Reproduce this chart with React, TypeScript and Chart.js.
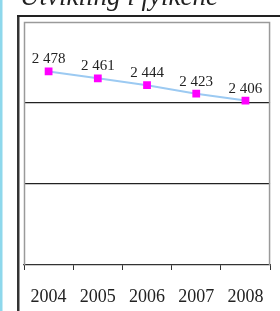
import React, { useEffect, useRef } from "react";
import { Chart, registerables } from "chart.js";

Chart.register(...registerables);

const years = ["2004", "2005", "2006", "2007", "2008"];
const values = [2478, 2461, 2444, 2423, 2406];
const valueLabels = ["2 478", "2 461", "2 444", "2 423", "2 406"];
const titleText = "Utvikling i fylkene";

const decorPlugin = {
  id: "decor",
  beforeDraw(chart: any) {
    const ctx = chart.ctx;
    ctx.save();
    ctx.fillStyle = "#ffffff";
    ctx.fillRect(0, 0, chart.width, chart.height);
    ctx.fillStyle = "#8ed8ec";
    ctx.fillRect(0, 0, 2.5, chart.height);
    ctx.fillStyle = "#333333";
    ctx.fillRect(17, 15, 2.5, chart.height - 15);
    ctx.fillStyle = "#222222";
    ctx.fillRect(17, 15, chart.width - 17, 2);
    ctx.font = 'italic 27px "Liberation Serif"';
    ctx.fillStyle = "#222222";
    ctx.textBaseline = "alphabetic";
    ctx.textAlign = "left";
    ctx.fillText(titleText, 20, 5);
    ctx.restore();
  },
  afterDraw(chart: any) {
    const ctx = chart.ctx;
    const a = chart.chartArea;
    ctx.save();
    ctx.strokeStyle = "#9a9a9a";
    ctx.lineWidth = 1.5;
    ctx.beginPath();
    ctx.moveTo(a.left + 0.5, a.bottom);
    ctx.lineTo(a.left + 0.5, a.top + 0.5);
    ctx.lineTo(a.right - 0.5, a.top + 0.5);
    ctx.lineTo(a.right - 0.5, a.bottom);
    ctx.stroke();
    const meta = chart.getDatasetMeta(0);
    ctx.font = '15px "Liberation Serif"';
    ctx.fillStyle = "#222222";
    ctx.textAlign = "center";
    ctx.textBaseline = "middle";
    meta.data.forEach((pt: any, i: number) => {
      ctx.fillText(valueLabels[i], pt.x, pt.y - 12);
    });
    ctx.restore();
  },
};

export default function App() {
  const ref = useRef<HTMLCanvasElement>(null);
  useEffect(() => {
    if (!ref.current) return;
    const chart = new Chart(ref.current, {
      type: "line",
      data: {
        labels: years,
        datasets: [
          {
            data: values,
            borderColor: "#9ccaf2",
            borderWidth: 2,
            pointStyle: "rect",
            pointRadius: 5.5,
            pointBackgroundColor: "#ff00ff",
            pointBorderColor: "#ff00ff",
            pointBorderWidth: 0,
            tension: 0,
          },
        ],
      },
      options: {
        animation: false,
        responsive: false,
        devicePixelRatio: 1,
        layout: { padding: { left: 24, right: 4, top: 22, bottom: 0 } },
        plugins: {
          legend: { display: false },
          title: { display: false },
          tooltip: { enabled: false },
        },
        scales: {
          x: {
            offset: true,
            afterFit: (s: any) => {
              s.height = 46;
            },
            grid: {
              offset: true,
              drawOnChartArea: false,
              drawTicks: true,
              tickLength: 5,
              color: "#333333",
            },
            border: { display: true, color: "#333333", width: 1.2 },
            ticks: {
              color: "#222222",
              font: { family: '"Liberation Serif"', size: 18 },
              padding: 16,
              maxRotation: 0,
            },
          },
          y: {
            min: 2000,
            max: 2600,
            ticks: { display: false, stepSize: 200 },
            border: { display: false },
            grid: {
              drawTicks: false,
              lineWidth: 1.3,
              color: (c: any) =>
                c.tick && (c.tick.value === 2400 || c.tick.value === 2200)
                  ? "#222222"
                  : "rgba(0,0,0,0)",
            },
          },
        },
      },
      plugins: [decorPlugin],
    });
    return () => chart.destroy();
  }, []);
  return (
    <div style={{ position: "fixed", left: 0, top: 0, width: 280, height: 311 }}>
      <canvas ref={ref} width={280} height={311} style={{ display: "block" }} />
    </div>
  );
}
